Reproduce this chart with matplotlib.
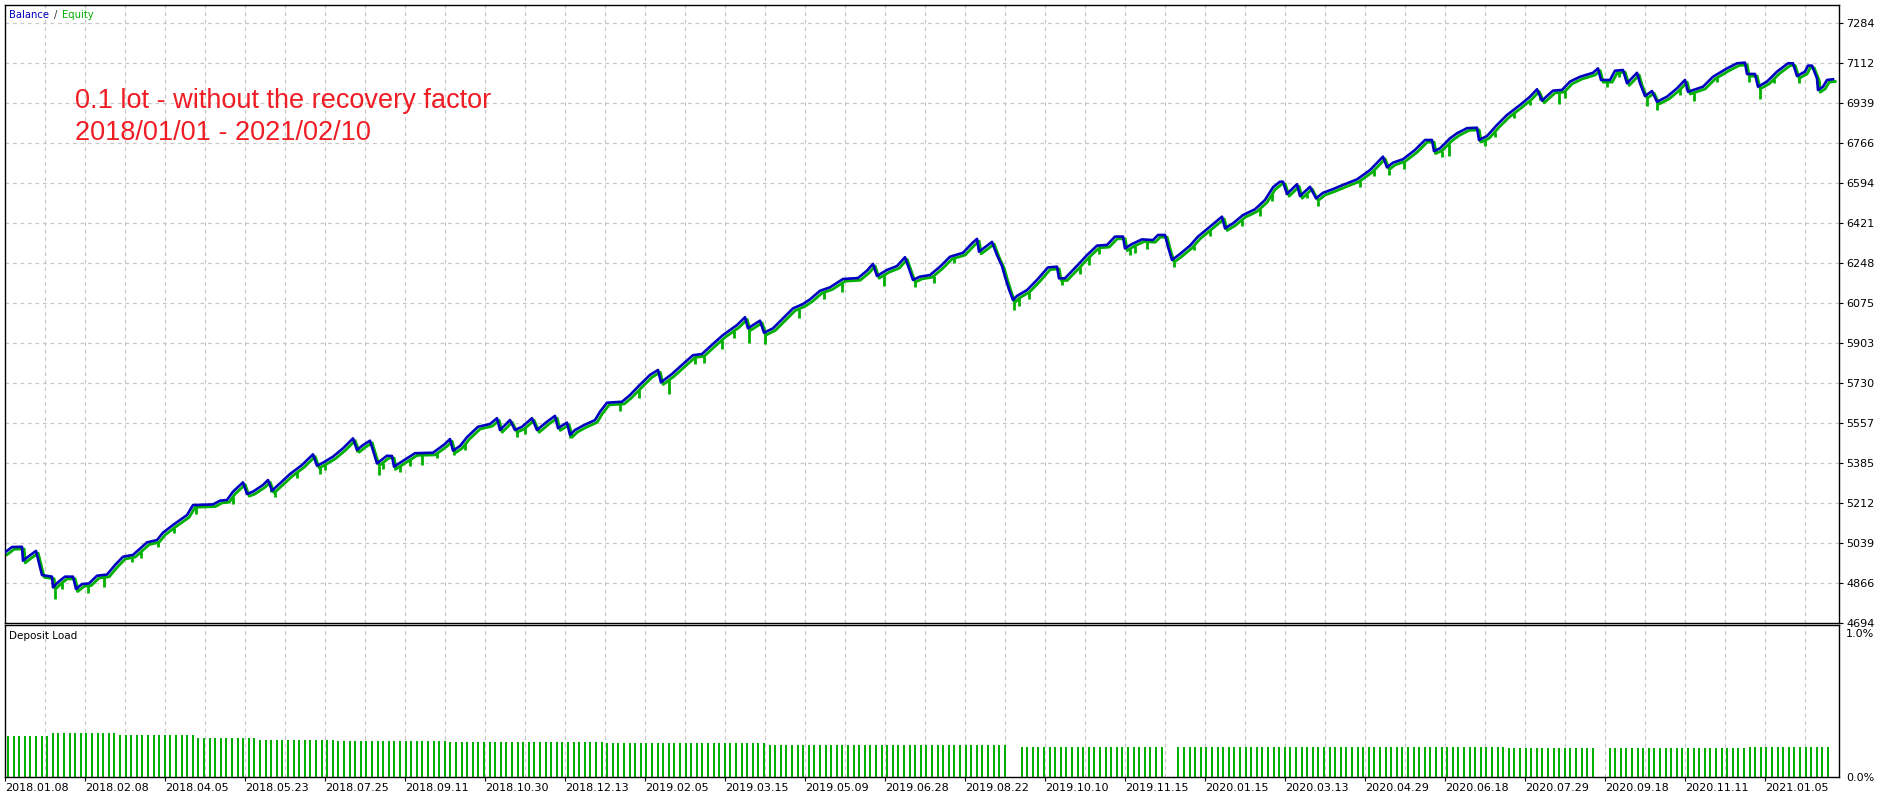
import matplotlib
matplotlib.use('Agg')
import matplotlib.pyplot as plt
import matplotlib.transforms as mtransforms
import numpy as np

# ---- balance curve (trade number, balance) ----
bal_x = [0, 7, 17, 18, 23, 31, 37, 47, 48, 53, 60, 68, 71, 77, 84, 92, 102, 110, 118, 128,
         142, 152, 158, 168, 182, 188, 208, 215, 222, 228, 238, 242, 248, 258, 263, 267, 275,
         285, 297, 308, 312, 318, 328, 338, 348, 352, 358, 365, 372, 382, 387, 389, 402, 410,
         428, 440, 445, 448, 455, 462, 473, 485, 492, 495, 505, 510, 517, 527, 532, 542, 550,
         553, 562, 565, 570, 578, 590, 595, 602, 617, 625, 633, 645, 653, 656, 667, 677, 688,
         697, 705, 718, 732, 740, 743, 755, 759, 768, 778, 788, 798, 805, 815, 825, 838, 853,
         862, 868, 872, 882, 892, 900, 908, 915, 925, 935, 945, 958, 967, 972, 974, 982, 987,
         992, 997, 1000, 1004, 1008, 1012, 1022, 1032, 1043, 1052, 1054, 1060, 1072, 1082,
         1092, 1102, 1110, 1118, 1120, 1127, 1137, 1148, 1153, 1160, 1163, 1167, 1175, 1185,
         1193, 1205, 1217, 1220, 1228, 1238, 1250, 1260, 1268, 1275, 1278, 1282, 1292, 1295,
         1305, 1311, 1318, 1328, 1338, 1352, 1365, 1378, 1382, 1388, 1398, 1410, 1420, 1427,
         1429, 1435, 1445, 1452, 1462, 1472, 1474, 1482, 1492, 1502, 1515, 1525, 1532, 1537,
         1548, 1557, 1565, 1575, 1588, 1593, 1596, 1605, 1610, 1618, 1622, 1632, 1635, 1640,
         1647, 1652, 1662, 1672, 1680, 1683, 1698, 1708, 1722, 1732, 1740, 1742, 1750, 1753,
         1762, 1772, 1783, 1788, 1792, 1800, 1803, 1807, 1812, 1813, 1818, 1822, 1828]
balance = [4999, 5022, 5023, 4963, 4980, 5005, 4901, 4894, 4848, 4870, 4894, 4894, 4841, 4862,
           4865, 4898, 4903, 4944, 4980, 4988, 5042, 5052, 5084, 5117, 5160, 5203, 5206, 5222,
           5225, 5261, 5301, 5251, 5261, 5290, 5311, 5265, 5297, 5337, 5376, 5422, 5373, 5386,
           5412, 5448, 5491, 5441, 5462, 5481, 5383, 5416, 5415, 5369, 5405, 5427, 5429, 5467,
           5488, 5438, 5458, 5496, 5541, 5553, 5578, 5527, 5570, 5527, 5541, 5578, 5527, 5563,
           5588, 5535, 5559, 5506, 5527, 5546, 5570, 5606, 5645, 5649, 5678, 5714, 5765, 5786,
           5733, 5769, 5808, 5850, 5855, 5887, 5937, 5980, 6014, 5966, 5999, 5947, 5966, 6009,
           6052, 6071, 6091, 6128, 6143, 6179, 6183, 6215, 6244, 6192, 6218, 6235, 6273, 6175,
           6189, 6196, 6232, 6275, 6292, 6333, 6352, 6297, 6323, 6339, 6282, 6235, 6189, 6134,
           6088, 6106, 6131, 6175, 6229, 6232, 6182, 6182, 6236, 6282, 6323, 6326, 6362, 6362,
           6311, 6330, 6350, 6347, 6369, 6369, 6318, 6261, 6287, 6323, 6362, 6405, 6448, 6398,
           6419, 6455, 6480, 6520, 6575, 6599, 6599, 6546, 6588, 6537, 6577, 6527, 6551, 6567,
           6585, 6609, 6649, 6707, 6661, 6681, 6696, 6736, 6779, 6779, 6731, 6743, 6786, 6808,
           6830, 6832, 6779, 6796, 6844, 6887, 6930, 6966, 6998, 6949, 6992, 6995, 7031, 7052,
           7069, 7088, 7038, 7038, 7078, 7081, 7024, 7069, 7024, 6969, 6990, 6944, 6966, 7002,
           7038, 6987, 7009, 7052, 7088, 7110, 7113, 7064, 7064, 7009, 7031, 7074, 7110, 7110,
           7055, 7074, 7100, 7100, 7045, 6995, 7009, 7038, 7041]

# equity drawdowns below balance (trade number, depth)
dip_x = [48, 55, 70, 81, 97, 125, 134, 151, 167, 189, 226, 264, 268, 290, 313, 318, 350, 372,
         376, 388, 393, 403, 415, 430, 447, 458, 510, 518, 563, 613, 632, 662, 688, 697, 715,
         727, 742, 758, 792, 817, 835, 877, 908, 927, 947, 1007, 1012, 1022, 1055, 1073, 1082,
         1092, 1123, 1128, 1140, 1167, 1187, 1203, 1218, 1235, 1253, 1265, 1300, 1311, 1353,
         1367, 1382, 1397, 1428, 1435, 1442, 1473, 1478, 1488, 1507, 1523, 1533, 1552, 1558,
         1600, 1612, 1618, 1640, 1650, 1673, 1687, 1710, 1742, 1753, 1767, 1792, 1812]
dip_depth = [40, 25, 20, 30, 40, 20, 25, 20, 20, 30, 30, 30, 20, 25, 30, 20, 25, 40, 30, 30,
             25, 25, 40, 20, 25, 25, 20, 25, 40, 30, 35, 60, 30, 30, 40, 30, 70, 50, 40, 30,
             40, 45, 20, 30, 20, 45, 35, 30, 20, 30, 35, 25, 25, 30, 30, 20, 20, 25, 25, 25,
             30, 30, 20, 25, 25, 25, 25, 30, 25, 30, 55, 25, 25, 25, 20, 20, 25, 50, 30, 20,
             20, 25, 35, 45, 25, 35, 20, 25, 45, 20, 20, 20]

# deposit load (%) levels, starting at trade number
load_from = [0, 45, 110, 190, 250, 330, 440, 600, 760, 1000, 1300, 1500, 1740]
load_level = [0.285, 0.305, 0.295, 0.27, 0.26, 0.25, 0.245, 0.235, 0.225, 0.21, 0.205, 0.20, 0.21]
load_gaps = [(1000, 1012), (1162, 1172), (1592, 1600)]

y_labels = ['4694', '4866', '5039', '5212', '5385', '5557', '5730', '5903', '6075', '6248',
            '6421', '6594', '6766', '6939', '7112', '7284']
date_labels = ['2018.01.08', '2018.02.08', '2018.04.05', '2018.05.23', '2018.07.25',
               '2018.09.11', '2018.10.30', '2018.12.13', '2019.02.05', '2019.03.15',
               '2019.05.09', '2019.06.28', '2019.08.22', '2019.10.10', '2019.11.15',
               '2020.01.15', '2020.03.13', '2020.04.29', '2020.06.18', '2020.07.29',
               '2020.09.18', '2020.11.11', '2021.01.05']

W, H = 1893, 797
blue = '#0000c0'
green = '#00b000'
grid_col = '#c8c8c8'
fs = 8

fig = plt.figure(figsize=(W / 100, H / 100), dpi=100)
ax = fig.add_axes([5 / W, 1 - 623 / H, 1834 / W, 618 / H])
ax2 = fig.add_axes([5 / W, 20 / H, 1834 / W, 152 / H])

x_max = 1834
y_lo, y_hi = 4694.0, 7284.0
y_step = (y_hi - y_lo) / (len(y_labels) - 1)
y_top = y_lo + 618 / 40 * y_step

# grid
for g in np.arange(40, 1801, 40):
    ax.axvline(g, color=grid_col, lw=0.9, ls=(0, (3, 3)), zorder=0)
    ax2.axvline(g, color=grid_col, lw=0.9, ls=(0, (3, 3)), zorder=0)
y_ticks = [y_lo + i * y_step for i in range(len(y_labels))]
for v in y_ticks[1:]:
    ax.axhline(v, color=grid_col, lw=0.9, ls=(0, (3, 3)), zorder=0)

# equity (green) slightly lagging the balance, then balance on top
shift = mtransforms.ScaledTranslation(2.2 / 100, -2.2 / 100, fig.dpi_scale_trans)
ax.plot(bal_x, balance, color=green, lw=2.0, transform=ax.transData + shift, zorder=2)
base = np.interp(dip_x, bal_x, balance)
ax.vlines(dip_x, base - np.array(dip_depth), base, color=green, lw=2.0,
          transform=ax.transData + shift, zorder=2)
ax.plot(bal_x, balance, color=blue, lw=1.9, zorder=3)

ax.set_xlim(0, x_max)
ax.set_ylim(y_lo, y_top)
ax.set_xticks([])
ax.yaxis.tick_right()
ax.set_yticks(y_ticks)
ax.set_yticklabels(y_labels)
ax.tick_params(axis='y', direction='out', length=3, width=0.8, pad=2, labelsize=fs)
for s in ax.spines.values():
    s.set_linewidth(1.0)

# deposit load bars
load_x = []
for b in np.arange(3, 1828, 5.6):
    if any(a <= b <= c for a, c in load_gaps):
        continue
    load_x.append(b)
load_vals = [load_level[np.searchsorted(load_from, b, side='right') - 1] for b in load_x]
ax2.bar(load_x, load_vals, width=2.0, color=green, zorder=2)
ax2.set_xlim(0, x_max)
ax2.set_ylim(0, 1.0 + 8 / 144)
ax2.yaxis.tick_right()
ax2.set_yticks([0, 1.0])
ax2.set_yticklabels(['0.0%', '1.0%'])
ax2.tick_params(axis='y', length=0, pad=5, labelsize=fs)
ax2.set_xticks(np.arange(0, 80 * len(date_labels), 80))
ax2.set_xticklabels(date_labels, ha='left')
ax2.tick_params(axis='x', direction='out', length=3, width=0.8, pad=1, labelsize=fs)
for s in ax2.spines.values():
    s.set_linewidth(1.0)

# labels
fig.text(9 / W, 1 - 15 / H, 'Balance', color=blue, fontsize=7.2, va='center')
fig.text(54 / W, 1 - 15 / H, '/', color='#333333', fontsize=7.2, va='center')
fig.text(62 / W, 1 - 15 / H, 'Equity', color=green, fontsize=7.2, va='center')
fig.text(9 / W, 1 - 636 / H, 'Deposit Load', color='black', fontsize=7.5, va='center')
fig.text(75 / W, 1 - 101 / H, '0.1 lot - without the recovery factor', color='#f01c24',
         fontsize=19.5, family='Liberation Sans', va='center')
fig.text(75 / W, 1 - 133 / H, '2018/01/01 - 2021/02/10', color='#f01c24',
         fontsize=19.5, family='Liberation Sans', va='center')

fig.savefig('out.png', dpi=100)
